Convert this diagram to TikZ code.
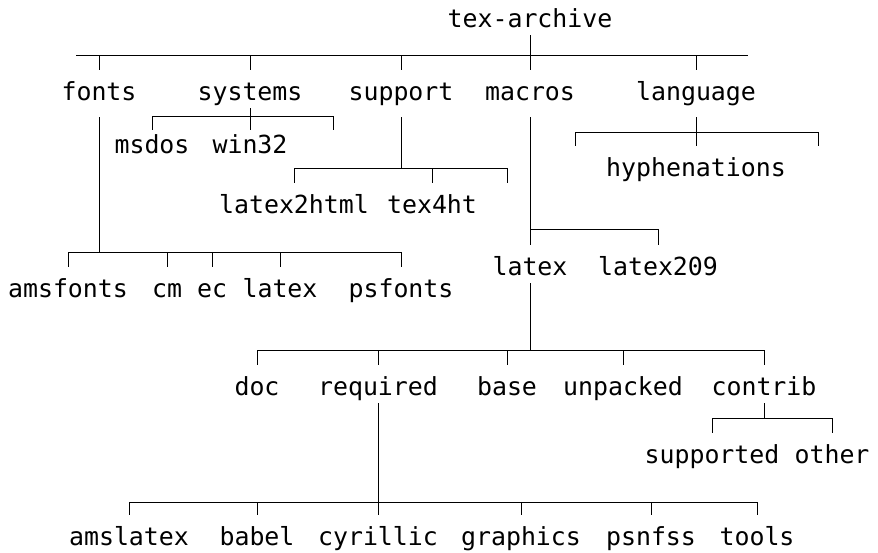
\documentclass[tikz,border=0pt]{standalone}
\usepackage{fontspec}
\setmonofont{DejaVu Sans Mono}
\usepackage{tikz}

\begin{document}
\begin{tikzpicture}[x=1pt,y=-1pt]
\useasboundingbox (0,0) rectangle (878,552);
\begin{scope}[line width=0.8pt,
  every node/.style={font=\ttfamily\fontsize{24.9}{30}\selectfont, anchor=base,
    inner sep=0pt, text height=30pt, text depth=8pt},
  shallow/.style={text height=23pt}]

\node (root) at (530,27) {tex-archive};

\node (fonts)    at (99,100)  {fonts};
\node (systems)  at (250,100) {systems};
\node (support)  at (401,100) {support};
\node (macros)   at (530,100) {macros};
\node (language) at (696,100) {language};

\node[shallow] (msdos) at (152,153) {msdos};
\node[shallow] (win32) at (250,153) {win32};

\node (hyph) at (696,176) {hyphenations};

\node (l2h)    at (294,213) {latex2html};
\node (tex4ht) at (432,213) {tex4ht};

\node (latex)    at (530,275) {latex};
\node (latexold) at (658,275) {latex209};

\node (amsfonts) at (68,297)  {amsfonts};
\node (cm)       at (167,297) {cm};
\node (ec)       at (212,297) {ec};
\node (flatex)   at (280,297) {latex};
\node (psfonts)  at (401,297) {psfonts};

\node (doc)      at (257,395) {doc};
\node (required) at (378,395) {required};
\node (base)     at (507,395) {base};
\node (unpacked) at (623,395) {unpacked};
\node (contrib)  at (764,395) {contrib};

\node (supported) at (712,463) {supported};
\node (other)     at (832,463) {other};

\node (amslatex) at (129,545) {amslatex};
\node (babel)    at (257,545) {babel};
\node (cyrillic) at (378,545) {cyrillic};
\node (graphics) at (521,545) {graphics};
\node (psnfss)   at (651,545) {psnfss};
\node (tools)    at (757,545) {tools};

% bars
\coordinate (rootbar)  at (530,55);
\coordinate (rootleft) at (76,55);
\coordinate (rootright) at (748,55);
\coordinate (sysbar)   at (250,116);
\coordinate (sysfree)  at (333,130);
\coordinate (supbar)   at (401,168);
\coordinate (supfree)  at (507,183);
\coordinate (macbar)   at (530,229);
\coordinate (langbar)  at (696,132);
\coordinate (langleft) at (575,146);
\coordinate (langright) at (818,146);
\coordinate (fontsbar) at (99,252);
\coordinate (latexbar) at (530,350);
\coordinate (contribbar) at (764,418);
\coordinate (reqbar)   at (378,502);

% tex-archive
\draw (root.south)--(rootbar);
\draw (rootleft)--(rootright);
\draw (rootbar) -| (fonts.north);
\draw (rootbar) -| (systems.north);
\draw (rootbar) -| (support.north);
\draw (rootbar) -| (macros.north);
\draw (rootbar) -| (language.north);

% systems
\draw (systems.south)--(sysbar);
\draw (sysbar) -| (msdos.north);
\draw (sysbar) -| (win32.north);
\draw (sysbar) -| (sysfree);

% support
\draw [shorten <=9pt] (support.south)--(supbar);
\draw (supbar) -| (l2h.north);
\draw (supbar) -| (tex4ht.north);
\draw (supbar) -| (supfree);

% macros
\draw [shorten <=9pt] (macros.south)--(macbar);
\draw (macbar) -| (latex.north);
\draw (macbar) -| (latexold.north);

% language
\draw [shorten <=9pt] (language.south)--(langbar);
\draw (langbar) -| (hyph.north);
\draw (langbar) -| (langleft);
\draw (langbar) -| (langright);

% fonts
\draw [shorten <=9pt] (fonts.south)--(fontsbar);
\draw (fontsbar) -| (amsfonts.north);
\draw (fontsbar) -| (cm.north);
\draw (fontsbar) -| (ec.north);
\draw (fontsbar) -| (flatex.north);
\draw (fontsbar) -| (psfonts.north);

% latex
\draw (latex.south)--(latexbar);
\draw (latexbar) -| (doc.north);
\draw (latexbar) -| (required.north);
\draw (latexbar) -| (base.north);
\draw (latexbar) -| (unpacked.north);
\draw (latexbar) -| (contrib.north);

% contrib
\draw (contrib.south)--(contribbar);
\draw (contribbar) -| (supported.north);
\draw (contribbar) -| (other.north);

% required
\draw (required.south)--(reqbar);
\draw (reqbar) -| (amslatex.north);
\draw (reqbar) -| (babel.north);
\draw (reqbar) -| (cyrillic.north);
\draw (reqbar) -| (graphics.north);
\draw (reqbar) -| (psnfss.north);
\draw (reqbar) -| (tools.north);

\end{scope}
\end{tikzpicture}
\end{document}
